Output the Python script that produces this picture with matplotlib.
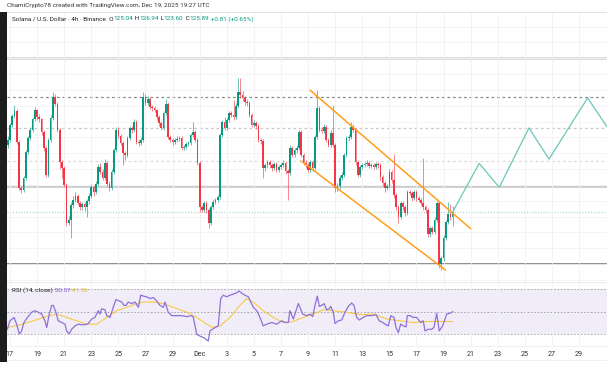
import matplotlib
matplotlib.use("Agg")
import matplotlib.pyplot as plt
from matplotlib.lines import Line2D
from matplotlib.patches import Rectangle

# SOL/USD 4h candles, first bar Nov 16 20:00 UTC, last bar Dec 19 16:00 UTC
first_open = 137.0
closes = [
    137.9, 140.4, 141.9, 142.7, 137.6, 129.9, 129.6, 131.6, 135.9, 138.2,
    139.6, 141.4, 142.9, 141.7, 141.4, 139.2, 136.6, 132.1, 137.9, 141.6,
    145.1, 143.9, 139.6, 134.2, 133.2, 130.4, 124.1, 124.6, 127.1, 127.9,
    128.6, 127.4, 126.7, 127.2, 126.7, 127.7, 128.6, 130.1, 129.2, 130.6,
    133.4, 132.6, 131.6, 134.1, 130.6, 129.9, 132.6, 136.2, 139.6, 138.6,
    137.4, 135.7, 135.4, 138.2, 139.9, 139.6, 140.9, 137.6, 137.4, 137.9,
    145.1, 144.1, 144.7, 143.4, 143.2, 142.9, 141.7, 140.7, 139.9, 142.4,
    143.9, 138.4, 137.9, 137.6, 137.9, 138.1, 138.2, 136.6, 136.7, 137.2,
    137.4, 138.7, 139.2, 137.9, 134.1, 126.7, 126.2, 127.4, 126.2, 124.1,
    126.7, 127.6, 127.9, 128.4, 138.7, 140.9, 139.9, 141.2, 142.4, 142.1,
    141.7, 143.6, 145.9, 145.4, 144.9, 144.2, 144.1, 142.1, 140.4, 140.7,
    140.2, 137.9, 137.7, 133.2, 133.7, 134.2, 133.7, 133.2, 133.9, 132.9,
    133.4, 133.7, 134.1, 132.7, 132.4, 136.6, 135.4, 136.2, 136.6, 139.2,
    135.4, 134.1, 133.7, 132.9, 134.2, 133.2, 138.4, 143.2, 139.6, 139.4,
    140.1, 137.9, 137.1, 139.1, 137.1, 129.9, 130.2, 131.6, 132.1, 135.4,
    138.2, 138.4, 140.1, 139.6, 134.2, 132.1, 133.4, 133.7, 133.9, 134.1,
    133.6, 133.7, 133.4, 133.9, 133.7, 131.7, 130.7, 129.9, 130.2, 132.6,
    131.2, 128.7, 126.7, 125.1, 127.4, 126.7, 125.7, 129.2, 129.1, 128.2,
    129.2, 128.2, 127.9, 127.4, 126.7, 126.2, 122.2, 123.2, 122.6, 124.6,
    127.4, 117.2, 118.2, 121.6, 124.2, 125.6, 125.04, 125.89,
]
highs = [
    138.5, 140.8, 142.3, 143.7, 143.0, 137.9, 130.3, 131.9, 136.3, 138.6,
    140.0, 141.8, 143.4, 143.1, 142.3, 141.6, 139.5, 136.9, 138.3, 142.0,
    145.9, 145.5, 144.2, 139.9, 134.6, 133.5, 130.7, 125.2, 127.5, 128.5,
    129.2, 128.9, 127.8, 127.6, 127.5, 128.1, 129.0, 130.6, 130.4, 131.0,
    133.9, 134.0, 133.0, 134.7, 134.4, 131.0, 133.0, 136.6, 140.1, 140.0,
    138.9, 137.7, 136.0, 138.6, 140.3, 140.3, 141.4, 141.2, 138.0, 138.4,
    145.9, 145.6, 145.2, 145.0, 143.8, 143.6, 143.1, 142.0, 141.0, 142.8,
    144.7, 144.2, 138.8, 138.3, 138.3, 138.5, 138.6, 138.5, 137.1, 137.6,
    137.8, 139.1, 140.9, 139.5, 138.2, 134.4, 127.1, 127.8, 127.7, 126.5,
    127.0, 128.0, 128.3, 128.8, 139.1, 141.3, 141.7, 141.6, 142.8, 142.7,
    144.5, 144.0, 148.2, 148.2, 146.0, 145.3, 144.8, 144.4, 142.4, 141.2,
    141.1, 140.5, 138.3, 138.0, 134.1, 134.6, 134.6, 134.0, 134.3, 134.2,
    133.8, 134.1, 134.6, 134.4, 133.0, 137.0, 136.9, 136.6, 137.0, 139.6,
    139.5, 135.7, 134.5, 134.0, 134.6, 134.5, 138.8, 146.2, 143.5, 140.0,
    140.5, 140.4, 138.3, 139.5, 143.7, 137.4, 130.7, 132.0, 132.5, 135.8,
    138.6, 138.9, 140.9, 140.5, 139.9, 134.5, 133.8, 134.1, 134.3, 134.5,
    134.4, 134.1, 134.0, 134.3, 134.2, 134.0, 132.0, 131.0, 130.6, 133.0,
    132.9, 135.5, 129.0, 127.0, 127.8, 127.8, 127.0, 129.6, 129.6, 129.4,
    129.6, 129.5, 128.6, 128.3, 134.9, 127.1, 126.5, 123.6, 123.6, 125.0,
    127.8, 127.7, 118.6, 122.0, 124.6, 127.5, 127.3, 126.94,
]
lows = [
    136.6, 137.6, 140.1, 141.6, 137.2, 129.5, 129.1, 129.3, 131.3, 135.6,
    137.9, 139.2, 141.1, 141.3, 140.9, 138.8, 136.1, 131.7, 131.8, 137.5,
    141.3, 143.5, 139.2, 133.1, 131.6, 130.0, 123.6, 123.7, 121.5, 126.6,
    127.5, 127.0, 126.2, 126.3, 126.1, 125.0, 127.3, 128.3, 128.6, 128.9,
    130.3, 132.2, 131.2, 131.3, 130.2, 129.4, 129.6, 132.3, 135.9, 138.2,
    137.0, 133.7, 134.6, 135.1, 137.9, 139.1, 139.3, 137.2, 136.9, 137.0,
    137.6, 143.7, 143.8, 143.0, 142.8, 142.5, 141.3, 140.3, 139.5, 139.6,
    142.1, 138.0, 137.5, 137.1, 137.2, 137.6, 137.8, 136.2, 136.2, 136.4,
    136.9, 137.1, 138.4, 137.5, 133.7, 125.9, 125.9, 125.9, 125.8, 123.2,
    123.8, 126.4, 127.2, 127.5, 128.1, 138.4, 139.5, 139.6, 140.9, 141.7,
    141.3, 141.4, 143.3, 144.9, 144.4, 143.8, 143.6, 141.7, 140.0, 140.0,
    139.8, 137.5, 137.3, 131.5, 132.8, 133.3, 133.3, 132.8, 132.9, 132.5,
    132.6, 133.1, 133.4, 132.3, 127.9, 132.1, 135.0, 135.0, 135.8, 136.3,
    135.0, 133.7, 133.3, 132.5, 132.6, 132.8, 132.9, 138.1, 139.2, 139.0,
    139.0, 137.5, 136.7, 136.8, 136.7, 129.2, 129.4, 129.8, 131.2, 131.8,
    135.1, 137.8, 138.0, 139.2, 133.8, 131.7, 131.8, 133.0, 133.4, 133.6,
    133.2, 133.3, 133.0, 133.1, 133.3, 131.3, 130.3, 129.2, 129.6, 129.9,
    130.8, 128.3, 126.3, 124.0, 124.8, 126.3, 125.3, 125.4, 128.7, 127.8,
    127.9, 127.8, 127.5, 127.0, 126.3, 125.8, 121.8, 121.8, 122.2, 122.3,
    124.3, 116.5, 116.2, 117.8, 121.3, 123.9, 124.6, 123.60,
]

# drawn levels (price)
level_prices = [151.6, 145.0, 139.9, 134.4, 130.0, 117.2]
last_price = 125.89

# descending channel: (day, price) end points
channel_upper = [(22.14, 146.2), (34.0, 123.1)]
channel_lower = [(21.48, 134.4), (32.15, 116.2)]

# projected path drawn on the chart
path_days = [32.67, 34.63, 36.11, 38.30, 39.78, 42.63, 44.5]
path_prices = [125.89, 134.0, 130.0, 139.9, 134.7, 144.9, 138.6]

rsi_days = [
    -0.20, 0.00, 0.30, 0.49, 0.69, 0.86, 1.03, 1.23, 1.60, 1.85,
    2.09, 2.34, 2.58, 2.71, 2.90, 3.08, 3.20, 3.39, 3.56, 3.82,
    4.06, 4.18, 4.38, 4.55, 4.80, 5.04, 5.29, 5.54, 5.78, 6.03,
    6.27, 6.52, 6.64, 6.77, 7.01, 7.14, 7.38, 7.62, 7.82, 7.99,
    8.24, 8.41, 8.56, 8.73, 8.98, 9.23, 9.47, 9.65, 9.84, 10.09,
    10.33, 10.58, 10.83, 11.07, 11.31, 11.44, 11.68, 11.93, 12.30, 12.67,
    13.04, 13.41, 13.53, 13.78, 14.02, 14.32, 14.63, 14.76, 15.13, 15.37,
    15.55, 15.74, 15.99, 16.24, 16.48, 16.73, 16.92, 17.10, 17.34, 17.59,
    17.96, 18.21, 18.45, 18.69, 18.94, 19.31, 19.68, 20.05, 20.30, 20.54,
    20.66, 20.91, 21.28, 21.40, 21.60, 21.90, 22.14, 22.34, 22.51, 22.68,
    22.83, 23.00, 23.17, 23.37, 23.56, 23.67, 23.86, 23.99, 24.23, 24.48,
    24.72, 24.97, 25.22, 25.39, 25.59, 25.78, 26.07, 26.32, 26.69, 27.01,
    27.25, 27.51, 27.75, 27.92, 28.10, 28.34, 28.49, 28.66, 28.83, 29.03,
    29.23, 29.32, 29.52, 29.76, 30.01, 30.31, 30.50, 30.63, 30.87, 31.12,
    31.29, 31.49, 31.68, 31.93, 32.23, 32.47, 32.67,
]
rsi_values = [
    34.4, 42.0, 45.0, 39.0, 30.3, 33.0, 40.5, 44.0, 49.6, 51.0,
    49.6, 48.0, 42.0, 36.0, 48.0, 55.7, 55.7, 49.6, 42.0, 40.5,
    39.0, 33.0, 30.5, 34.5, 37.5, 39.0, 38.5, 38.5, 39.6, 43.6,
    45.0, 51.0, 48.0, 52.7, 51.8, 46.6, 45.0, 54.0, 60.9, 60.0,
    58.7, 55.7, 55.7, 58.7, 57.3, 58.7, 54.0, 64.8, 64.0, 63.3,
    61.8, 62.7, 59.6, 55.7, 54.0, 58.7, 49.6, 46.6, 46.6, 46.6,
    45.7, 46.6, 45.0, 30.0, 28.4, 26.9, 24.0, 33.0, 36.0, 37.5,
    61.8, 64.8, 63.3, 64.8, 65.7, 66.9, 68.5, 66.4, 64.8, 63.3,
    54.0, 51.0, 45.0, 37.5, 39.0, 40.5, 39.0, 42.0, 40.5, 40.5,
    51.0, 43.6, 57.3, 54.0, 48.0, 46.6, 48.0, 45.7, 55.7, 64.0,
    54.8, 55.7, 57.3, 51.8, 52.7, 54.8, 49.6, 39.6, 42.0, 42.7,
    49.6, 54.8, 57.8, 55.7, 45.0, 42.7, 45.0, 46.6, 46.6, 47.5,
    42.0, 40.5, 38.5, 37.5, 46.6, 45.0, 36.0, 31.5, 39.0, 37.5,
    36.6, 46.6, 46.6, 45.0, 45.0, 40.5, 42.0, 33.0, 34.5, 34.5,
    36.0, 48.7, 33.0, 37.5, 48.0, 48.7, 50.07,
]
ma_days = [
    -0.20, 0.74, 1.72, 2.46, 3.45, 4.18, 4.92, 5.66, 6.40, 7.14,
    7.87, 8.61, 9.35, 9.84, 10.58, 11.31, 12.05, 13.04, 13.78, 14.52,
    15.00, 15.50, 16.24, 16.97, 17.47, 17.96, 18.69, 19.43, 20.17, 20.91,
    21.40, 22.39, 23.12, 23.86, 24.85, 25.83, 26.81, 27.80, 28.78, 29.76,
    30.75, 31.73, 32.67,
]
ma_values = [
    36.0, 38.5, 42.0, 45.0, 48.0, 45.0, 42.0, 39.0, 39.0, 45.0,
    51.0, 54.0, 57.3, 58.7, 58.7, 57.3, 54.0, 49.6, 45.0, 39.0,
    36.0, 37.5, 45.0, 55.7, 61.8, 58.7, 51.0, 45.0, 40.5, 41.4,
    44.0, 48.0, 51.8, 51.0, 49.6, 47.5, 48.0, 43.6, 42.0, 40.5,
    41.4, 41.4, 41.36,
]

tick_days = list(range(0, 43, 2))
tick_labels = ["17", "19", "21", "23", "25", "27", "29", "Dec", "3", "5", "7",
               "9", "11", "13", "15", "17", "19", "21", "23", "25", "27", "29"]

GREEN = "#089981"
RED = "#f23645"
W, H = 607, 367
FONT = "Roboto"


def fig_y(py):
    return 1 - py / H


def chained_text(fig, ax, x, y, pieces, size):
    # first piece placed in figure coords, the rest glued to its right end
    prev = fig.text(x, y, pieces[0][0], color=pieces[0][1], fontsize=size,
                    family=FONT, va="center", ha="left")
    for s, c in pieces[1:]:
        prev = ax.annotate(s, xy=(1, 0.5), xycoords=prev, va="center",
                           ha="left", color=c, fontsize=size, family=FONT,
                           annotation_clip=False)


def draw_candles(ax):
    opens = [first_open] + closes[:-1]
    days = [(i - 1) / 6 for i in range(len(closes))]
    colors = [GREEN if c >= o else RED for o, c in zip(opens, closes)]
    ax.vlines(days, lows, highs, colors=colors, lw=0.7, alpha=0.6, zorder=3)
    bottoms = [min(o, c) for o, c in zip(opens, closes)]
    heights = [max(abs(c - o), 0.12) for o, c in zip(opens, closes)]
    ax.bar(days, heights, bottom=bottoms, width=0.125, color=colors,
           lw=0, zorder=4)


def main():
    fig = plt.figure(figsize=(W / 100, H / 100), dpi=100)
    fig.patch.set_facecolor("white")

    ax = fig.add_axes([7 / W, fig_y(282), 600 / W, 270 / H])
    rsi_ax = fig.add_axes([7 / W, fig_y(346), 600 / W, 64 / H], sharex=ax)

    for a in (ax, rsi_ax):
        for sp in a.spines.values():
            sp.set_visible(False)
        a.set_xticks(tick_days)
        a.grid(axis="x", color="#f1f1f4", lw=0.6, zorder=0)
        a.tick_params(length=0)
    ax.set_xlim(-0.22, 44.06)

    # main pane
    ax.set_ylim(114.22, 159.22)
    ax.set_yticks([156.8 - 2.64 * k for k in range(17)])
    ax.grid(axis="y", color="#f3f3f5", lw=0.6, zorder=0)
    ax.tick_params(labelbottom=False, labelleft=False)

    styles = [
        dict(color="#d4d4d4", lw=1.8, ls="-"),
        dict(color="#8c8c8c", lw=0.9, ls=(0, (2.2, 2.2))),
        dict(color="#c9c9c9", lw=0.9, ls=(0, (2.2, 2.2))),
        dict(color="#d9d9d9", lw=0.9, ls=(0, (2.2, 2.2))),
        dict(color="#c2c2c2", lw=1.1, ls="-"),
        dict(color="#7d7d7d", lw=1.2, ls="-"),
    ]
    for p, st in zip(level_prices, styles):
        ax.axhline(p, zorder=1, **st)
    ax.axhline(last_price, color="#9fd9cf", lw=0.8, ls=(0, (1, 1.5)), zorder=1)

    draw_candles(ax)

    for seg in (channel_upper, channel_lower):
        ax.plot([seg[0][0], seg[1][0]], [seg[0][1], seg[1][1]],
                color="#ff9f1a", lw=1.1, zorder=5, solid_capstyle="round")
    ax.plot(path_days, path_prices, color="#6cc7b8", lw=0.9, zorder=5)

    # RSI pane
    rsi_ax.set_ylim(19.6, 76.5)
    rsi_ax.set_yticks([])
    rsi_ax.axhspan(30, 70, color="#7e57c2", alpha=0.1, lw=0, zorder=0)
    for lvl in (70, 50, 30):
        rsi_ax.axhline(lvl, color="#9e9e9e", lw=0.6, ls=(0, (2, 2)), zorder=1)
    rsi_ax.plot(ma_days, ma_values, color="#f7c948", lw=0.8, zorder=3)
    rsi_ax.plot(rsi_days, rsi_values, color="#8f6fd8", lw=0.9, zorder=4)
    rsi_ax.set_xticklabels(tick_labels, fontsize=5.2, color="#333333",
                           family=FONT)
    rsi_ax.tick_params(axis="x", pad=3.5)

    # frame lines and left strip
    for py, c in ((12, "#e3e3e3"), (282, "#ececec"), (346, "#f0f0f0"),
                  (360, "#f0f0f0")):
        fig.add_artist(Line2D([7 / W, 1], [fig_y(py)] * 2, color=c, lw=0.7))
    fig.add_artist(Rectangle((0, fig_y(362)), 7 / W, 350 / H,
                             color="#1c1c1c", lw=0, transform=fig.transFigure))

    # headers
    fig.text(7 / W, fig_y(6), "ChamiCrypto78 created with TradingView.com, "
             "Dec 19, 2025 19:27 UTC", fontsize=4.6, color="#333333",
             family=FONT, va="center")
    dark = "#222222"
    chained_text(fig, rsi_ax, 12 / W, fig_y(19), [
        ("Solana / U.S. Dollar \u00b7 4h \u00b7 Binance  O", dark),
        ("125.04", GREEN), (" H", dark), ("126.94", GREEN), (" L", dark),
        ("123.60", GREEN), (" C", dark), ("125.89", GREEN),
        (" +0.81 (+0.65%)", GREEN)], 4.6)
    chained_text(fig, rsi_ax, 12 / W, fig_y(290), [
        ("RSI (14, close)", dark), (" 50.07", "#7e57c2"),
        (" 41.36", "#e8b923")], 4.6)

    fig.savefig("out.png", dpi=100)


if __name__ == "__main__":
    main()
